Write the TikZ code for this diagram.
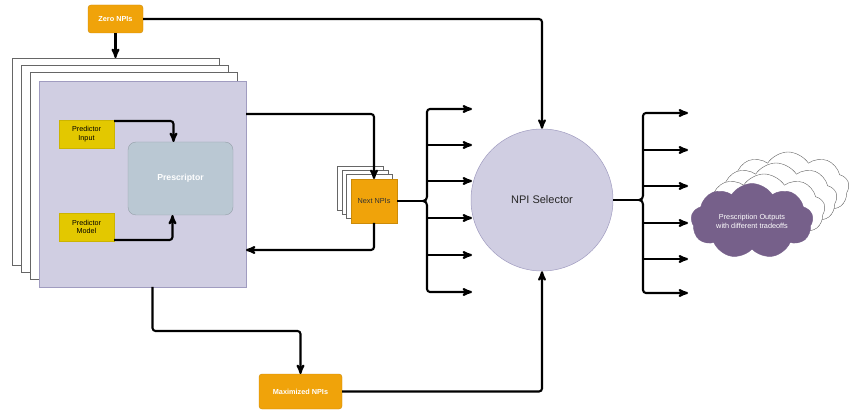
\documentclass[tikz,border=0pt]{standalone}
\usepackage{fontspec}
\setmainfont{Liberation Sans}
\usetikzlibrary{arrows,shapes.symbols,positioning}

\definecolor{npiorange}{HTML}{F0A30A}
\definecolor{predyellow}{HTML}{E3C800}
\definecolor{lavender}{HTML}{D0CEE2}
\definecolor{lavline}{HTML}{A09CC0}
\definecolor{prescblue}{HTML}{BAC8D3}
\definecolor{cloudpurple}{HTML}{76608A}

\begin{document}
\begin{tikzpicture}[x=1pt,y=-1pt,>=stealth',line width=2.1pt,
 font=\fontsize{7.3}{8.8}\selectfont]
 \tikzstyle{box}=[rectangle,inner sep=0pt,outer sep=0pt,line width=0.4pt,anchor=north west,align=center]
 \tikzstyle{npi}=[box,fill=npiorange,draw=npiorange!85!black,rounded corners=3pt,text=white,font=\fontsize{7.3}{8.5}\selectfont\bfseries]
 \tikzstyle{pred}=[box,fill=predyellow,draw=predyellow!90!black,text=black,font=\fontsize{7.2}{8.8}\selectfont]
 \tikzstyle{sheet}=[box,fill=white,draw=black!60]
 \tikzstyle{puff}=[cloud,cloud puffs=9,cloud puff arc=115,aspect=1.7,inner sep=0pt,
  minimum width=122pt,minimum height=72pt,line width=0.4pt]
 \tikzstyle{link}=[->,rounded corners=3pt]

 \useasboundingbox (0,0) rectangle (856,411);

 % left block
 \node[npi,minimum width=55pt,minimum height=28pt] (zero) at (88,5) {Zero NPIs};
 \node[sheet,minimum width=207pt,minimum height=207pt] (sheet1) at (12,58) {};
 \node[sheet,minimum width=207pt,minimum height=207pt] (sheet2) at (21,65) {};
 \node[sheet,minimum width=207pt,minimum height=207pt] (sheet3) at (30,72) {};
 \node[box,fill=lavender,draw=lavline,minimum width=207pt,minimum height=206pt] (main) at (39,81) {};
 \node[pred,minimum width=55pt,minimum height=28pt] (pin) at (59,120) {Predictor\\Input};
 \node[pred,minimum width=55pt,minimum height=28pt] (pmod) at (59,213) {Predictor\\Model};
 \node[box,fill=prescblue,draw=prescblue!80!black,rounded corners=8pt,text=white,
  font=\fontsize{8.7}{10}\selectfont\bfseries,minimum width=105pt,minimum height=73pt] (presc) at (128,142) {Prescriptor};
 \node[npi,minimum width=83pt,minimum height=35pt] (maxi) at (259,374) {Maximized NPIs};

 % next NPIs stack
 \node[sheet,minimum width=46pt,minimum height=44pt] (nsheet1) at (337,166) {};
 \node[sheet,minimum width=46pt,minimum height=44pt] (nsheet2) at (342,170) {};
 \node[sheet,minimum width=46pt,minimum height=44pt] (nsheet3) at (346,174) {};
 \node[box,fill=npiorange,draw=npiorange!85!black,text=black!80,minimum width=46pt,minimum height=44pt] (next) at (351,179) {Next NPIs};

 % selector and outputs
 \node[circle,fill=lavender,draw=lavline,line width=0.5pt,minimum size=142pt,inner sep=0pt,
  font=\fontsize{11}{13}\selectfont,text=black!85] (sel) at (542,200) {NPI Selector};
 \node[puff,draw=black!60,fill=white] (cl3) at (788,188) {};
 \node[puff,draw=black!60,fill=white] (cl2) at (776,199) {};
 \node[puff,draw=black!60,fill=white] (cl1) at (764,210) {};
 \node[puff,draw=cloudpurple,fill=cloudpurple,text=white,align=center] (out) at (752,221) {Prescription Outputs\\with different tradeoffs};

 % connectors
 \draw[link] (zero.south) -- (zero.south |- sheet1.north);
 \draw[link] (zero.east) -| (sel.north);
 \draw[link] ([yshift=-1pt]pin.north east) -| ([xshift=-7pt]presc.north);
 \draw[link] ([yshift=1pt]pmod.south east) -| ([xshift=-8pt]presc.south);
 \draw[link] ([yshift=-33pt]main.north east) -| (next.north);
 \draw[link] (next.south) |- ([yshift=37pt]main.south east);
 \draw[link] ([xshift=10pt]main.south) -- ++(0,44) -| (maxi.north);
 \draw[link] (maxi.east) -| (sel.south);

 % fan out to the selector
 \coordinate (brA) at (427,201);
 \coordinate (tipA) at (423,201);
 \foreach \y [count=\i] in {109,145,181,218,255,292}
  \coordinate (la\i) at (472,\y);
 \draw (next.east) -- (tipA);
 \draw ([yshift=4pt]brA) to[out=-90,in=0] (tipA) to[out=0,in=90] ([yshift=-4pt]brA);
 \draw[link] ([yshift=4pt]brA) -- (la1 -| brA) -- (la1);
 \draw[link] ([yshift=-4pt]brA) -- (la6 -| brA) -- (la6);
 \foreach \i in {2,...,5}
  \draw[->] (la\i -| brA) -- (la\i);

 % fan out to the outputs
 \coordinate (brB) at (643,200);
 \coordinate (tipB) at (639,200);
 \foreach \y [count=\i] in {113,150,186,223,259,293}
  \coordinate (lb\i) at (688,\y);
 \draw (sel.east) -- (tipB);
 \draw ([yshift=4pt]brB) to[out=-90,in=0] (tipB) to[out=0,in=90] ([yshift=-4pt]brB);
 \draw[link] ([yshift=4pt]brB) -- (lb1 -| brB) -- (lb1);
 \draw[link] ([yshift=-4pt]brB) -- (lb6 -| brB) -- (lb6);
 \foreach \i in {2,...,5}
  \draw[->] (lb\i -| brB) -- (lb\i);
\end{tikzpicture}
\end{document}
